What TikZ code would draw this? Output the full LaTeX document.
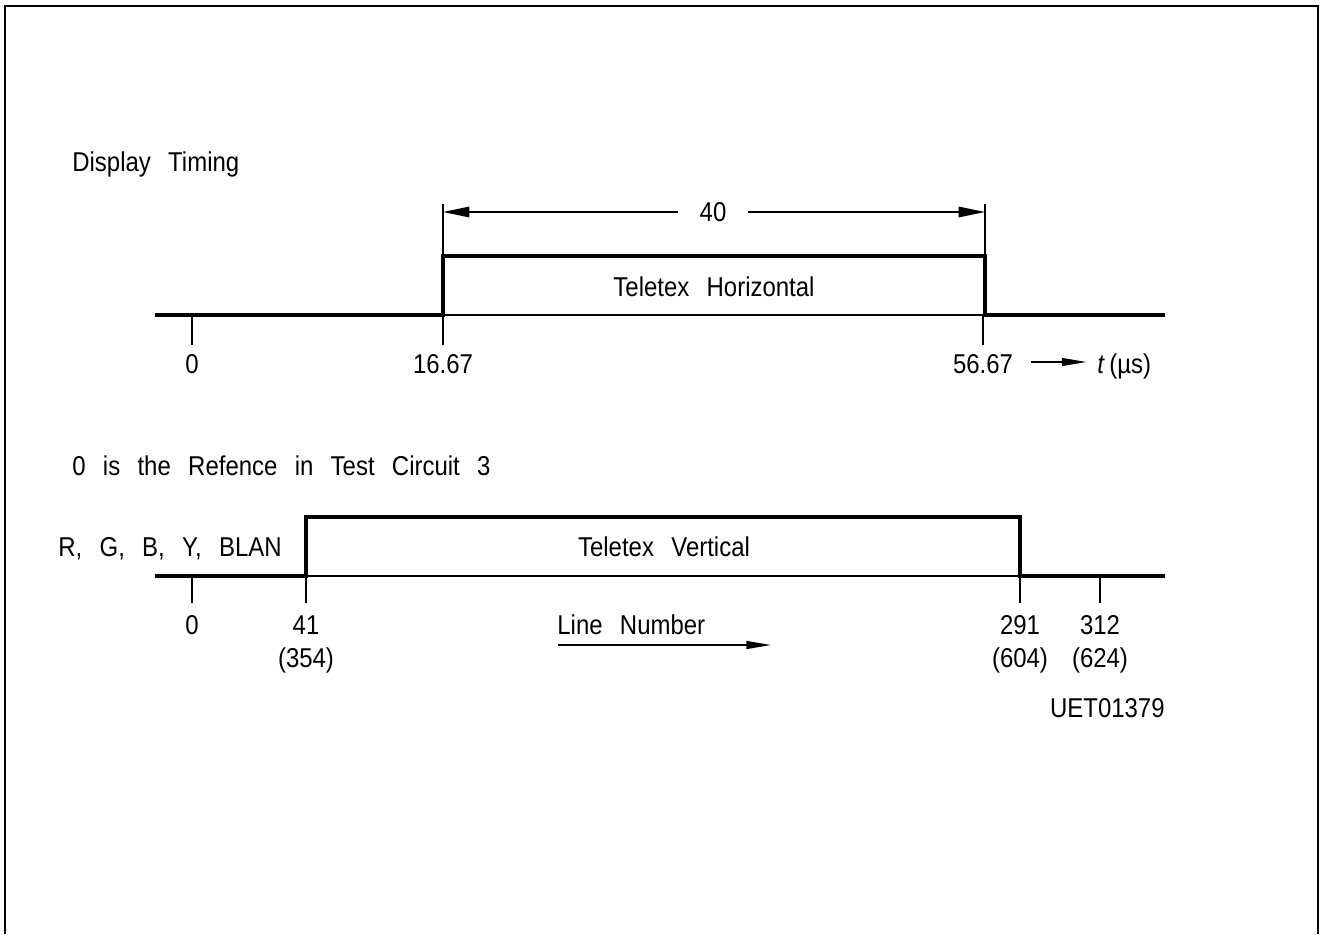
\documentclass[tikz,border=0pt]{standalone}
\usepackage{fontspec}
\setmainfont{Liberation Sans}[WordSpace=2.6, FakeStretch=0.88]
\usetikzlibrary{arrows.meta,positioning}

\tikzset{
  sig/.style={line width=2.8pt},
  refline/.style={line width=0.8pt},
  frameline/.style={line width=1.2pt},
  lbl/.style={font=\fontsize{15.5}{18}\selectfont, inner sep=0pt},
  dimtip/.style={-{Triangle[length=15pt,width=6pt]}, line width=0.8pt},
  smalltip/.style={-{Triangle[length=14pt,width=4.5pt]}, line width=0.8pt}
}

\begin{document}
\begin{tikzpicture}[x=0.02cm,y=-0.02cm]
    \useasboundingbox (0,0) rectangle (1321,934);
    % frame, open at the bottom
    \draw[frameline] (5,934) -- (5,6) -- (1318,6) -- (1318,934);

    % Display timing (horizontal)
    \node[lbl, anchor=base west] (title1) at (72,171) {Display Timing};
    \coordinate (h0) at (155,315);
    \coordinate (hr) at (443,315);
    \coordinate (hrt) at (443,256);
    \coordinate (hft) at (985,256);
    \coordinate (hf) at (985,315);
    \coordinate (h1) at (1165,315);
    \draw[refline] (hr) -- (hf);
    \draw[sig] (h0) -- (hr) -- (hrt) -- (hft) -- (hf) -- (h1);
    \node[lbl, anchor=base] (horiz) at (714,296) {Teletex Horizontal};

    % dimension 40
    \coordinate (dl) at (443,212);
    \coordinate (dr) at (985,212);
    \draw[refline] (443,204) -- (hrt);
    \draw[refline] (985,204) -- (hft);
    \node[lbl, inner xsep=12pt] (d40) at (713,212) {40};
    \draw[dimtip] (d40.west) -- (dl);
    \draw[dimtip] (d40.east) -- (dr);

    % time axis labels
    \foreach \x/\t [count=\i] in {192/0, 443/16.67, 983/56.67} {
        \node[lbl, anchor=base] (ht\i) at (\x,373) {\t};
        \draw[refline] (\x,315) -- (\x,345);
    }
    \node[lbl, anchor=base west] (tus) at (1097,373) {\textit{t}\,(µs)};
    \draw[smalltip, shorten >=6pt] (1031,362) -- (tus.west |- 0,362);

    % Teletex vertical
    \node[lbl, anchor=base west] (title2) at (72,475) {0 is the Refence in Test Circuit 3};
    \node[lbl, anchor=base west] (rgb) at (58,556) {R, G, B, Y, BLAN};
    \coordinate (v0) at (155,576);
    \coordinate (vr) at (306,576);
    \coordinate (vrt) at (306,517);
    \coordinate (vft) at (1020,517);
    \coordinate (vf) at (1020,576);
    \coordinate (v1) at (1165,576);
    \draw[refline] (vr) -- (vf);
    \draw[sig] (v0) -- (vr) -- (vrt) -- (vft) -- (vf) -- (v1);
    \node[lbl, anchor=base] (vert) at (664,556) {Teletex Vertical};

    % line number labels
    \foreach \x/\a/\b [count=\i] in {192/0/, 306/41/(354), 1020/291/(604), 1100/312/(624)} {
        \node[lbl, anchor=base] (vl\i) at (\x,634) {\a};
        \node[lbl, anchor=base] (vs\i) at (\x,667) {\b};
        \draw[refline] (\x,576) -- (\x,603);
    }
    \node[lbl, anchor=base west] (lnum) at (557,634) {Line Number};
    \coordinate (la) at (558,645);
    \coordinate (lb) at (771,645);
    \draw[smalltip] (la) -- (lb);

    \node[lbl, anchor=base east] (code) at (1165,717) {UET01379};
\end{tikzpicture}
\end{document}
